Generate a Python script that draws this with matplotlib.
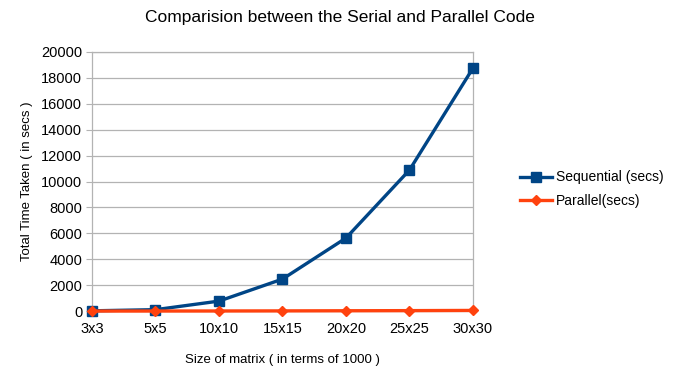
import matplotlib
matplotlib.use("Agg")
import matplotlib.pyplot as plt

sizes = ["3x3", "5x5", "10x10", "15x15", "20x20", "25x25", "30x30"]
sequential = [20, 110, 770, 2470, 5640, 10890, 18760]
parallel = [2, 4, 8, 15, 25, 35, 50]

plt.rcParams["font.family"] = ["Liberation Sans", "DejaVu Sans"]

fig = plt.figure(figsize=(6.9, 3.73), dpi=100)
ax = fig.add_axes([0.1333, 0.166, 0.5522, 0.6946])

x = list(range(len(sizes)))
ax.plot(x, sequential, color="#004586", lw=2.4, marker="s", ms=7.5,
        label="Sequential (secs)", zorder=3, clip_on=False)
ax.plot(x, parallel, color="#ff420e", lw=2.4, marker="D", ms=5.5,
        label="Parallel(secs)", zorder=4, clip_on=False)

ax.set_xlim(0, len(sizes) - 1)
ax.set_ylim(0, 20000)
ax.set_yticks(range(0, 20001, 2000))
ax.set_xticks(x)
ax.set_xticklabels(sizes)
ax.tick_params(axis="y", length=4, color="#b3b3b3", labelsize=10.5, pad=3)
ax.tick_params(axis="x", length=0, labelsize=10.5, pad=8)
ax.grid(axis="y", color="#b3b3b3", lw=0.9)
ax.set_axisbelow(True)
for s in ax.spines.values():
    s.set_color("#b3b3b3")
    s.set_linewidth(0.9)

ax.set_ylabel("Total Time Taken ( in secs )", fontsize=9.5, labelpad=6)
ax.set_xlabel("Size of matrix ( in terms of 1000 )", fontsize=9.5, labelpad=13)
fig.text(0.493, 0.952, "Comparision between the Serial and Parallel Code",
         ha="center", va="center", fontsize=12.5)

ax.legend(loc="center left", bbox_to_anchor=(1.09, 0.47), frameon=False,
          fontsize=10, handlelength=2.3, handletextpad=0.3, labelspacing=0.7)

fig.savefig("out.png", dpi=100)
